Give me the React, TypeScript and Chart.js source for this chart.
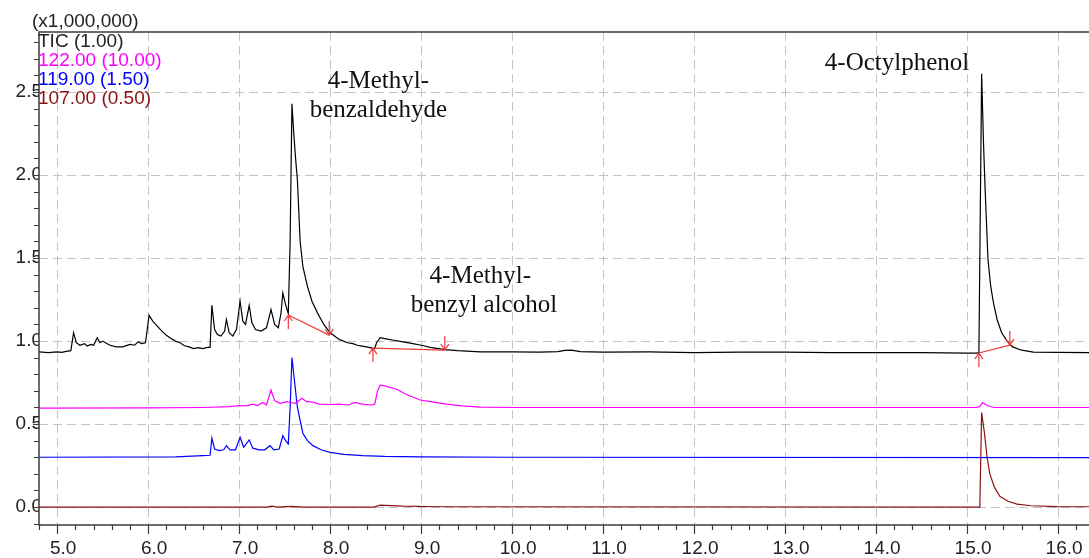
import React, { useEffect, useRef } from "react";
import { Chart, registerables } from "chart.js";
Chart.register(...registerables);

// Retention time (min) vs intensity (x1,000,000)
const ticPoints: [number, number][] = [
  [4.8, 0.935], [4.9, 0.930], [5.0, 0.935], [5.05, 0.932], [5.1, 0.938], [5.15, 0.942],
  [5.18, 1.05], [5.21, 0.99], [5.25, 0.975], [5.3, 0.985], [5.33, 0.97], [5.37, 0.98],
  [5.4, 0.975], [5.44, 1.02], [5.47, 0.99], [5.5, 1.0], [5.53, 0.99], [5.58, 0.975],
  [5.65, 0.965], [5.72, 0.965], [5.8, 0.98], [5.85, 0.975], [5.89, 0.995], [5.93, 0.985],
  [5.97, 0.99], [6.01, 1.155], [6.05, 1.12], [6.1, 1.09], [6.15, 1.06], [6.2, 1.035],
  [6.25, 1.015], [6.3, 1.0], [6.35, 0.99], [6.4, 0.972], [6.45, 0.965], [6.5, 0.955],
  [6.55, 0.96], [6.6, 0.955], [6.65, 0.962], [6.68, 0.962], [6.7, 1.215], [6.73, 1.07],
  [6.76, 1.04], [6.8, 1.03], [6.84, 1.06], [6.86, 1.13], [6.89, 1.05], [6.93, 1.03],
  [6.97, 1.07], [7.01, 1.24], [7.04, 1.12], [7.07, 1.10], [7.11, 1.215], [7.14, 1.11],
  [7.18, 1.07], [7.24, 1.06], [7.3, 1.08], [7.35, 1.19], [7.39, 1.10], [7.43, 1.08],
  [7.46, 1.17], [7.48, 1.29], [7.51, 1.22], [7.54, 1.165], [7.56, 1.6], [7.58, 2.43],
  [7.6, 2.25], [7.62, 2.1], [7.64, 1.97], [7.67, 1.6], [7.7, 1.45], [7.75, 1.33],
  [7.8, 1.24], [7.86, 1.17], [7.93, 1.1], [8.0, 1.05], [8.1, 1.01], [8.19, 0.99],
  [8.25, 0.985], [8.3, 0.975], [8.35, 0.97], [8.4, 0.965], [8.46, 0.958], [8.49, 0.955],
  [8.51, 0.99], [8.55, 1.02], [8.6, 1.015], [8.7, 1.005], [8.8, 0.995], [8.91, 0.985],
  [9.0, 0.975], [9.1, 0.962], [9.26, 0.948], [9.4, 0.942], [9.65, 0.935], [10.0, 0.935],
  [10.3, 0.933], [10.5, 0.937], [10.58, 0.944], [10.65, 0.945], [10.75, 0.937], [11.0, 0.933],
  [11.5, 0.935], [12.0, 0.931], [12.5, 0.933], [13.0, 0.933], [13.5, 0.931], [14.0, 0.93],
  [14.5, 0.93], [15.0, 0.928], [15.1, 0.928], [15.13, 0.93], [15.16, 2.61], [15.18, 2.2],
  [15.2, 1.89], [15.23, 1.49], [15.26, 1.33], [15.29, 1.23], [15.33, 1.13], [15.38, 1.05],
  [15.44, 1.0], [15.5, 0.965], [15.6, 0.945], [15.73, 0.934], [16.0, 0.932], [16.34, 0.93],
];

const mz122Points: [number, number][] = [
  [4.8, 0.596], [6.0, 0.597], [6.6, 0.6], [6.9, 0.605], [7.0, 0.612], [7.08, 0.61],
  [7.15, 0.62], [7.2, 0.612], [7.26, 0.63], [7.3, 0.615], [7.35, 0.705], [7.39, 0.64],
  [7.45, 0.625], [7.52, 0.635], [7.56, 0.63], [7.62, 0.625], [7.69, 0.655], [7.74, 0.635],
  [7.81, 0.632], [7.88, 0.62], [8.0, 0.618], [8.1, 0.62], [8.2, 0.615], [8.27, 0.63],
  [8.35, 0.62], [8.45, 0.615], [8.49, 0.62], [8.52, 0.7], [8.55, 0.735], [8.6, 0.73],
  [8.73, 0.71], [8.85, 0.675], [8.99, 0.645], [9.1, 0.635], [9.28, 0.62], [9.45, 0.61],
  [9.65, 0.602], [10.0, 0.6], [12.0, 0.6], [15.1, 0.6], [15.14, 0.605], [15.17, 0.63],
  [15.22, 0.612], [15.3, 0.6], [16.34, 0.6],
];

const mz119Points: [number, number][] = [
  [4.8, 0.3], [6.3, 0.302], [6.6, 0.31], [6.68, 0.312], [6.7, 0.415], [6.73, 0.35],
  [6.78, 0.34], [6.83, 0.345], [6.86, 0.37], [6.9, 0.345], [6.96, 0.345], [7.01, 0.42],
  [7.05, 0.36], [7.11, 0.405], [7.15, 0.355], [7.22, 0.345], [7.28, 0.345], [7.34, 0.37],
  [7.38, 0.345], [7.44, 0.35], [7.48, 0.43], [7.51, 0.4], [7.54, 0.38], [7.56, 0.6],
  [7.58, 0.9], [7.61, 0.75], [7.64, 0.6], [7.7, 0.445], [7.75, 0.4], [7.81, 0.37],
  [7.9, 0.345], [8.0, 0.33], [8.15, 0.318], [8.36, 0.31], [8.6, 0.305], [9.0, 0.302],
  [10.0, 0.3], [16.34, 0.298],
];

const mz107Points: [number, number][] = [
  [4.8, 0.0], [7.3, 0.0], [7.36, 0.006], [7.42, 0.0], [7.58, 0.004], [7.7, 0.0],
  [8.48, 0.0], [8.55, 0.012], [8.8, 0.006], [9.2, 0.002], [15.12, 0.0], [15.14, 0.0],
  [15.16, 0.57], [15.19, 0.45], [15.22, 0.3], [15.25, 0.2], [15.3, 0.12], [15.36, 0.065],
  [15.45, 0.035], [15.55, 0.018], [15.7, 0.008], [16.0, 0.003], [16.34, 0.002],
];

const traceLabels = ["TIC (1.00)", "122.00 (10.00)", "119.00 (1.50)", "107.00 (0.50)"];
const traceColors = ["#000000", "#ff00ff", "#0000ff", "#8b1212"];

const xTickValues = [5, 6, 7, 8, 9, 10, 11, 12, 13, 14, 15, 16];
const yTickValues = [0, 0.5, 1.0, 1.5, 2.0, 2.5];
const xRange = [4.8, 16.34];
const yRange = [-0.108, 2.862];

// integration baselines: [startTime, startValue, endTime, endValue]
const baselines: [number, number, number, number][] = [
  [7.54, 1.157, 7.99, 1.036],
  [8.47, 0.958, 9.26, 0.946],
  [15.13, 0.928, 15.47, 0.976],
];

// compound labels: [centerTime, baselineValue, text]
const compoundLabels: [number, number, string][] = [
  [8.53, 2.524, "4-Methyl-"],
  [8.53, 2.349, "benzaldehyde"],
  [9.65, 1.349, "4-Methyl-"],
  [9.69, 1.175, "benzyl alcohol"],
  [14.23, 2.633, "4-Octylphenol"],
];

const decorPlugin = {
  id: "decor",
  afterDatasetsDraw(chart: any) {
    const { ctx, scales } = chart;
    const x = scales.x, y = scales.y;
    ctx.save();
    ctx.strokeStyle = "#f03a3a";
    ctx.lineWidth = 1.2;
    const arrow = (px: number, py: number, dir: number) => {
      const len = 14;
      ctx.beginPath();
      ctx.moveTo(px, py + dir * len);
      ctx.lineTo(px, py);
      ctx.moveTo(px - 4, py + dir * 6);
      ctx.lineTo(px, py);
      ctx.lineTo(px + 4, py + dir * 6);
      ctx.stroke();
    };
    baselines.forEach(([t0, v0, t1, v1]) => {
      const x0 = x.getPixelForValue(t0), y0 = y.getPixelForValue(v0);
      const x1 = x.getPixelForValue(t1), y1 = y.getPixelForValue(v1);
      ctx.beginPath();
      ctx.moveTo(x0, y0);
      ctx.lineTo(x1, y1);
      ctx.stroke();
      arrow(x0, y0, 1);
      arrow(x1, y1, -1);
    });
    ctx.restore();
  },
  afterDraw(chart: any) {
    const { ctx, chartArea: a, scales } = chart;
    const x = scales.x, y = scales.y;
    ctx.save();
    ctx.strokeStyle = "#3c3c3c";
    ctx.lineWidth = 1.5;
    ctx.beginPath();
    ctx.moveTo(a.right, a.top);
    ctx.lineTo(a.left, a.top);
    ctx.lineTo(a.left, a.bottom);
    ctx.lineTo(a.right, a.bottom);
    ctx.stroke();
    ctx.lineWidth = 1.2;
    ctx.beginPath();
    for (let i = 0; i <= 58; i++) {
      const t = 4.8 + i * 0.2;
      if (t > xRange[1]) break;
      const px = Math.round(x.getPixelForValue(t)) + 0.5;
      const major = Math.abs(t - Math.round(t)) < 1e-6;
      ctx.moveTo(px, a.bottom);
      ctx.lineTo(px, a.bottom + (major ? 9 : 5));
    }
    for (let i = -1; i <= 28; i++) {
      const v = i * 0.1;
      const py = Math.round(y.getPixelForValue(v)) + 0.5;
      const major = Math.abs(v * 2 - Math.round(v * 2)) < 1e-6;
      ctx.moveTo(a.left, py);
      ctx.lineTo(a.left - (major ? 6 : 5), py);
    }
    ctx.stroke();
    ctx.fillStyle = "#111";
    ctx.font = '25px "Liberation Serif", "Times New Roman", serif';
    ctx.textAlign = "center";
    ctx.textBaseline = "alphabetic";
    compoundLabels.forEach(([t, v, text]) => {
      ctx.fillText(text, x.getPixelForValue(t), y.getPixelForValue(v));
    });
    ctx.font = '19px "Liberation Sans", Arial, sans-serif';
    ctx.textAlign = "left";
    ctx.textBaseline = "middle";
    ctx.fillStyle = "#222";
    ctx.fillText("(x1,000,000)", 32, 22);
    traceLabels.forEach((label, i) => {
      ctx.fillStyle = i === 0 ? "#222" : traceColors[i];
      ctx.fillText(label, 38, 42 + i * 18.8);
    });
    ctx.restore();
  },
};

export default function App() {
  const ref = useRef<HTMLCanvasElement | null>(null);
  useEffect(() => {
    document.body.style.margin = "0";
    if (!ref.current) return;
    const series = [ticPoints, mz122Points, mz119Points, mz107Points];
    const chart = new Chart(ref.current, {
      type: "line",
      data: {
        datasets: series.map((pts, i) => ({
          label: traceLabels[i],
          data: pts.map(([t, v]) => ({ x: t, y: v })),
          borderColor: traceColors[i],
          borderWidth: 1.2,
          pointRadius: 0,
          tension: 0,
          fill: false,
        })),
      },
      options: {
        animation: false,
        responsive: true,
        maintainAspectRatio: false,
        parsing: false as any,
        layout: { padding: { top: 32, right: 0, left: 0, bottom: 0 } },
        plugins: { legend: { display: false }, tooltip: { enabled: false } },
        scales: {
          x: {
            type: "linear",
            min: xRange[0],
            max: xRange[1],
            afterBuildTicks: (s: any) => {
              s.ticks = xTickValues.map((v) => ({ value: v }));
            },
            afterFit: (s: any) => {
              s.height = 33;
            },
            grid: { color: "#c4c4c4", lineWidth: 1, drawTicks: false },
            border: { display: false, dash: [9, 5] },
            ticks: {
              autoSkip: false,
              maxRotation: 0,
              padding: 12,
              labelOffset: 6,
              color: "#222",
              font: { family: '"Liberation Sans", Arial, sans-serif', size: 19 },
              callback: (v: any) => Number(v).toFixed(1),
            },
          },
          y: {
            type: "linear",
            min: yRange[0],
            max: yRange[1],
            afterBuildTicks: (s: any) => {
              s.ticks = yTickValues.map((v) => ({ value: v }));
            },
            afterFit: (s: any) => {
              s.width = 39;
            },
            grid: { color: "#c4c4c4", lineWidth: 1, drawTicks: false },
            border: { display: false, dash: [9, 5] },
            ticks: {
              padding: -3,
              color: "#222",
              font: { family: '"Liberation Sans", Arial, sans-serif', size: 19 },
              callback: (v: any) => Number(v).toFixed(1),
            },
          },
        },
      },
      plugins: [decorPlugin],
    });
    return () => chart.destroy();
  }, []);
  return (
    <div style={{ position: "absolute", left: 0, top: 0, width: 1089, height: 558 }}>
      <canvas ref={ref} />
    </div>
  );
}
